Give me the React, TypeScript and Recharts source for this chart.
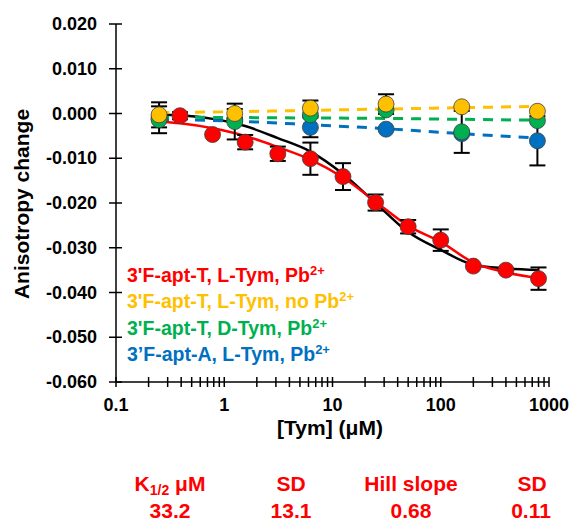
import React from 'react';
import { ComposedChart, Line, Scatter, XAxis, YAxis, ErrorBar } from 'recharts';

// ---- data ----
const fitX = [0.25, 0.39, 0.78, 1.56, 3.125, 6.25, 12.5, 25, 50, 100, 200, 400, 800];
const redFitY = [-0.0018, -0.0022, -0.0033, -0.005, -0.0075, -0.0103, -0.0143, -0.0197, -0.0251, -0.0287, -0.0333, -0.0355, -0.0368];
const blackFitY = [-0.0002, -0.0004, -0.0012, -0.0028, -0.0055, -0.0085, -0.0135, -0.02, -0.0265, -0.0305, -0.0338, -0.0346, -0.035];

const redX = [0.39, 0.78, 1.56, 3.125, 6.25, 12.5, 25, 50, 100, 200, 400, 800];
const redY = [-0.0005, -0.0047, -0.0064, -0.009, -0.0101, -0.0141, -0.0199, -0.0253, -0.0283, -0.0341, -0.035, -0.0369];
const redErr = [0.0008, 0, 0.0016, 0.0016, 0.0036, 0.003, 0.0018, 0.0015, 0.0024, 0, 0, 0.0025];

const ctrlX = [0.25, 1.25, 6.25, 31.25, 156.25, 781.25];
const yellowY = [-0.0003, 0.0, 0.0012, 0.0021, 0.0015, 0.0005];
const yellowErr = [0.0028, 0.001, 0.0017, 0.0022, 0, 0];
const greenY = [-0.0014, -0.0018, -0.0003, 0.0008, -0.0041, -0.0016];
const greenErr = [0.003, 0.004, 0, 0, 0.0047, 0];
const blueY = [-0.001, -0.0014, -0.0031, -0.0035, -0.0045, -0.0061];
const blueErr = [0, 0, 0.0022, 0, 0, 0.0055];

const yellowTrend = [0.0002, 0.0004, 0.0007, 0.001, 0.0013, 0.0016];
const greenTrend = [-0.0008, -0.0009, -0.001, -0.0011, -0.0013, -0.0015];
const blueTrend = [-0.0013, -0.0017, -0.0025, -0.0034, -0.0045, -0.0055];

const majorXTicks = [0.1, 1, 10, 100, 1000];
const xTickLabels = ['0.1', '1', '10', '100', '1000'];
const minorXTicks = [0.2, 0.3, 0.4, 0.5, 0.6, 0.7, 0.8, 0.9, 2, 3, 4, 5, 6, 7, 8, 9, 20, 30, 40, 50, 60, 70, 80, 90, 200, 300, 400, 500, 600, 700, 800, 900];
const yTicks = [-0.06, -0.05, -0.04, -0.03, -0.02, -0.01, 0, 0.01, 0.02];

const legendItems = [
  { text: "3'F-apt-T, L-Tym, Pb", color: '#FF0000' },
  { text: "3'F-apt-T, L-Tym, no Pb", color: '#FFC000' },
  { text: "3'F-apt-T, D-Tym, Pb", color: '#00B050' },
  { text: '3\u2019F-apt-A, L-Tym, Pb', color: '#0070C0' },
];

const tableHeaders = ['K', 'SD', 'Hill slope', 'SD'];
const tableValues = ['33.2', '13.1', '0.68', '0.11'];

// ---- build ----
const zip = (xs: number[], ys: number[], es?: number[]) =>
  xs.map((x, i) => ({ x, y: ys[i], e: es ? es[i] : 0 }));

const redFit = zip(fitX, redFitY);
const blackFit = zip(fitX, blackFitY);
const redPts = zip(redX, redY, redErr);
const yellowPts = zip(ctrlX, yellowY, yellowErr);
const greenPts = zip(ctrlX, greenY, greenErr);
const bluePts = zip(ctrlX, blueY, blueErr);
const yellowLine = zip(ctrlX, yellowTrend);
const greenLine = zip(ctrlX, greenTrend);
const blueLine = zip(ctrlX, blueTrend);

const FONT = '"Liberation Sans", Arial, sans-serif';
const allXTicks = [...majorXTicks, ...minorXTicks].sort((a, b) => a - b);

const XTick = (props: any) => {
  const { x, y, payload } = props;
  const idx = majorXTicks.indexOf(payload.value);
  return (
    <g>
      <line x1={x} x2={x} y1={y - 5} y2={y + 5} stroke="#000" strokeWidth={1.5} />
      {idx >= 0 && (
        <text x={x} y={y + 29} textAnchor="middle" fontFamily={FONT} fontWeight="bold" fontSize={18} fill="#000">
          {xTickLabels[idx]}
        </text>
      )}
    </g>
  );
};

const YTick = (props: any) => {
  const { x, y, payload } = props;
  return (
    <g>
      <line x1={x - 7} x2={x + 6} y1={y} y2={y} stroke="#000" strokeWidth={1.5} />
      <text x={x - 19} y={y + 6} textAnchor="end" fontFamily={FONT} fontWeight="bold" fontSize={18} fill="#000">
        {Number(payload.value).toFixed(3)}
      </text>
    </g>
  );
};

const dot = (fill: string) => (p: any) => (
  <circle cx={p.cx} cy={p.cy} r={8} fill={fill} stroke="#404040" strokeWidth={0.8} />
);
const noDot = () => <g />;

const errBar = <ErrorBar dataKey="e" direction="y" width={8} stroke="#000" strokeWidth={2} />;

export default function App() {
  return (
    <div style={{ position: 'absolute', left: 0, top: 0, width: 569, height: 521, background: '#fff', fontFamily: FONT, overflow: 'hidden' }}>
      <ComposedChart width={569} height={521} margin={{ top: 24, right: 20, left: 56, bottom: 0 }}>
        <XAxis
          dataKey="x"
          type="number"
          scale="log"
          domain={[0.1, 1000]}
          allowDataOverflow
          ticks={allXTicks}
          interval={0}
          tickSize={0}
          tickMargin={0}
          tick={<XTick />}
          axisLine={{ stroke: '#000', strokeWidth: 1.5 }}
          tickLine={false}
          height={139}
        />
        <YAxis
          dataKey="y"
          type="number"
          domain={[-0.06, 0.02]}
          ticks={yTicks}
          interval={0}
          tickSize={0}
          tickMargin={0}
          tick={<YTick />}
          axisLine={{ stroke: '#000', strokeWidth: 1.5 }}
          tickLine={false}
          width={60}
        />
        <Line data={blackFit} dataKey="y" type="monotone" stroke="#000" strokeWidth={2.5} dot={false} isAnimationActive={false} />
        <Line data={redFit} dataKey="y" type="monotone" stroke="#FF0000" strokeWidth={2.5} dot={false} isAnimationActive={false} />
        {/* error bars (behind markers) */}
        <Scatter data={bluePts} dataKey="y" shape={noDot} isAnimationActive={false}>{errBar}</Scatter>
        <Scatter data={greenPts} dataKey="y" shape={noDot} isAnimationActive={false}>{errBar}</Scatter>
        <Scatter data={yellowPts} dataKey="y" shape={noDot} isAnimationActive={false}>{errBar}</Scatter>
        <Scatter data={redPts} dataKey="y" shape={noDot} isAnimationActive={false}>{errBar}</Scatter>
        {/* markers */}
        <Scatter data={bluePts} dataKey="y" shape={dot('#0070C0')} isAnimationActive={false} />
        <Scatter data={greenPts} dataKey="y" shape={dot('#00B050')} isAnimationActive={false} />
        <Scatter data={yellowPts} dataKey="y" shape={dot('#FFC000')} isAnimationActive={false} />
        <Scatter data={redPts} dataKey="y" shape={dot('#FF0000')} isAnimationActive={false} />
        <Line data={blueLine} dataKey="y" type="monotone" stroke="#0070C0" strokeWidth={3} strokeDasharray="10 8" dot={false} isAnimationActive={false} />
        <Line data={greenLine} dataKey="y" type="monotone" stroke="#00B050" strokeWidth={3} strokeDasharray="10 8" dot={false} isAnimationActive={false} />
        <Line data={yellowLine} dataKey="y" type="monotone" stroke="#FFC000" strokeWidth={3} strokeDasharray="10 8" dot={false} isAnimationActive={false} />
      </ComposedChart>

      {/* Y axis title */}
      <div style={{ position: 'absolute', left: 22, top: 204, transform: 'translate(-50%, -50%) rotate(-90deg)', whiteSpace: 'nowrap', fontWeight: 'bold', fontSize: 21 }}>
        Anisotropy change
      </div>
      {/* X axis title */}
      <div style={{ position: 'absolute', left: 330, top: 428, transform: 'translate(-50%, -50%)', whiteSpace: 'nowrap', fontWeight: 'bold', fontSize: 21 }}>
        [Tym] (μM)
      </div>

      {/* Legend */}
      {legendItems.map((it, i) => (
        <div key={i} style={{ position: 'absolute', left: 127, top: 276 + i * 26.3, transform: 'translateY(-50%)', whiteSpace: 'nowrap', fontWeight: 'bold', fontSize: 19.5, color: it.color, lineHeight: 1 }}>
          {it.text}
          <sup style={{ fontSize: 13, verticalAlign: 'top', position: 'relative', top: -2 }}>2+</sup>
        </div>
      ))}

      {/* Table */}
      {tableHeaders.map((h, i) => (
        <div key={'h' + i} style={{ position: 'absolute', left: [170, 291, 411, 532][i], top: 483, transform: 'translate(-50%, -50%)', whiteSpace: 'nowrap', fontWeight: 'bold', fontSize: 21, color: '#FF0000', lineHeight: 1 }}>
          {h}
          {i === 0 && (
            <>
              <sub style={{ fontSize: 14, verticalAlign: 'baseline', position: 'relative', top: 4 }}>1/2</sub> μM
            </>
          )}
        </div>
      ))}
      {tableValues.map((v, i) => (
        <div key={'v' + i} style={{ position: 'absolute', left: [170, 291, 411, 531][i], top: 510, transform: 'translate(-50%, -50%)', whiteSpace: 'nowrap', fontWeight: 'bold', fontSize: 21, color: '#FF0000', lineHeight: 1 }}>
          {v}
        </div>
      ))}
    </div>
  );
}
